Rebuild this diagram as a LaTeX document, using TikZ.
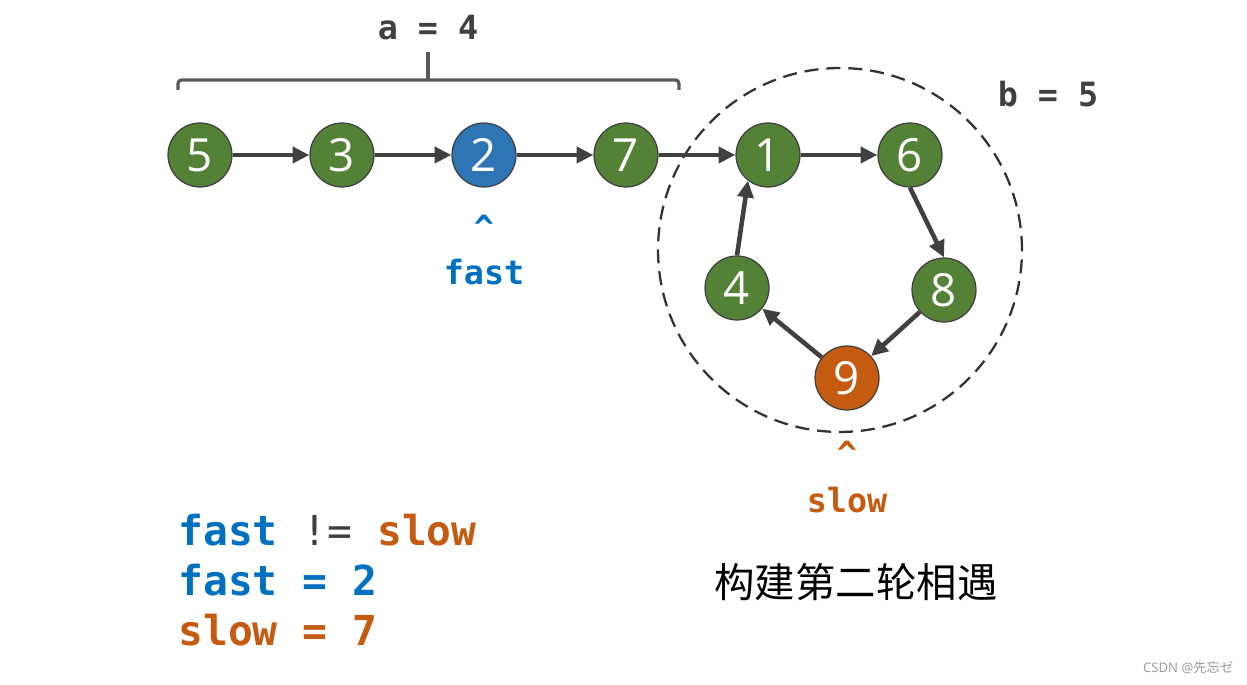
\documentclass[tikz,border=0pt]{standalone}
\usepackage{fontspec}
\setmainfont{Open Sans}
\setmonofont{DejaVu Sans Mono}
\newfontfamily\cjk{Noto Sans CJK SC}
\usepackage{tikz}
\usetikzlibrary{arrows.meta}
\definecolor{listgreen}{HTML}{538135}
\definecolor{fastblue}{HTML}{2E75B6}
\definecolor{slowred}{HTML}{C55A11}
\definecolor{fasttext}{HTML}{0070C0}
\definecolor{edgegray}{HTML}{404040}
\definecolor{bracegray}{HTML}{595959}

\begin{document}
\begin{tikzpicture}[
    x=0.02cm, y=-0.02cm,
    nd/.style={circle, draw=edgegray, line width=0.7pt, fill=listgreen, minimum size=1.28cm, inner sep=0pt, text=white, font=\fontsize{26}{26}\selectfont},
    arr/.style={-{Triangle[length=9.5pt, width=9pt]}, line width=2.6pt, edgegray},
    lbl/.style={inner sep=0pt, font=\fontsize{19}{19}\selectfont\ttfamily\bfseries},
    code/.style={inner sep=0pt, anchor=base west, font=\fontsize{23.5}{23.5}\selectfont\ttfamily\bfseries},
    ring/.style={circle, draw=black!80, dash pattern=on 8pt off 4.5pt, line width=1.3pt, minimum size=7.28cm, inner sep=0pt},
]
\useasboundingbox (0,0) rectangle (1247,685);

% Cycle outline
\node[ring] (loop) at (840,250) {};

% List head (a = 4)
\node[nd] (n5) at (200,155) {5};
\node[nd] (n3) at (342,155) {3};
\node[nd, fill=fastblue] (n2) at (484,155) {2};
\node[nd] (n7) at (626,155) {7};

% Cycle nodes (b = 5)
\node[nd] (n1) at (768,155) {1};
\node[nd] (n6) at (910,155) {6};
\node[nd] (n8) at (944,290) {8};
\node[nd, fill=slowred] (n9) at (847,378) {9};
\node[nd] (n4) at (737,288) {4};

\draw[arr] (n5) -- (n3);
\draw[arr] (n3) -- (n2);
\draw[arr] (n2) -- (n7);
\draw[arr] (n7) -- (n1);
\draw[arr] (n1) -- (n6);
\draw[arr] (n6.south) -- (n8.north);
\draw[arr] (n8) -- (n9);
\draw[arr] (n9) -- (n4);
\draw[arr] (n4.north) -- (n1.232);

% Bracket over the head
\draw[bracegray, line width=1.8pt, rounded corners=2pt] (178,90) -- (178,80) -- (679,80) -- (679,90);
\draw[bracegray, line width=1.8pt] (428,80) -- (428,52);
\node[lbl, text=edgegray, anchor=base] (alen) at (428,40) {a = 4};
\node[lbl, text=edgegray, anchor=base] (blen) at (1048,107) {b = 5};

% Pointers
\node[lbl, text=fasttext, anchor=north] (fastcaret) at (484,215) {\textasciicircum};
\node[lbl, text=fasttext, anchor=base] (fastlbl) at (484,285) {fast};
\node[lbl, text=slowred, anchor=north] (slowcaret) at (847,441) {\textasciicircum};
\node[lbl, text=slowred, anchor=base] (slowlbl) at (847,512) {slow};

% State
\node[code] (line1) at (178,545) {\textcolor{fasttext}{fast} \textcolor{edgegray}{\mdseries !=} \textcolor{slowred}{slow}};
\node[code, text=fasttext] (line2) at (178,595) {fast = 2};
\node[code, text=slowred] (line3) at (178,645) {slow = 7};
\node[font=\cjk\fontsize{23}{23}\selectfont] (title) at (856,582) {构建第二轮相遇};

\node[font=\fontsize{7.5}{7.5}\selectfont, text=gray!80] (mark) at (1188,668) {CSDN @\cjk 先忘ゼ};

\end{tikzpicture}
\end{document}
